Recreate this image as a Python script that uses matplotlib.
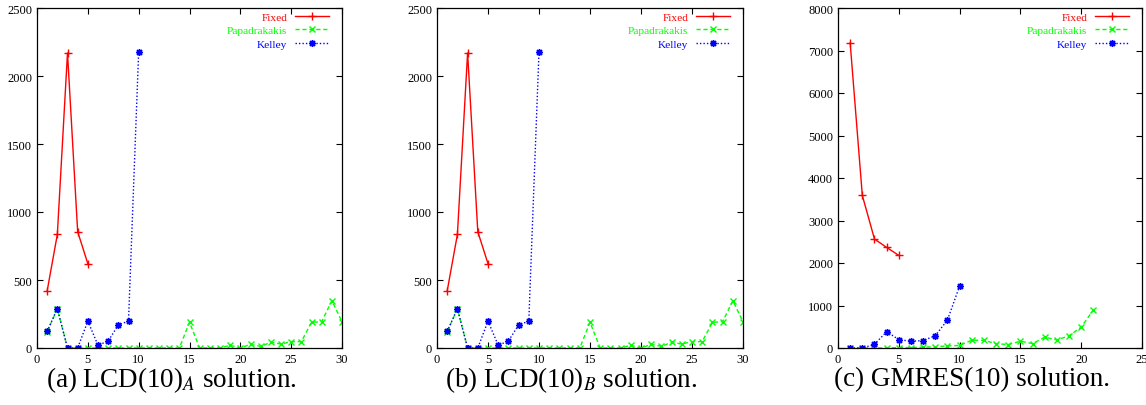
import matplotlib.pyplot as plt
import numpy as np

plt.rcParams['font.family'] = ['Liberation Serif', 'DejaVu Serif']
plt.rcParams['mathtext.fontset'] = 'stix'

# panel (a) / (b): LCD(10)
lcd_fixed = [420, 835, 2170, 855, 620]
lcd_papa = [120, 288, 0, 0, 0, 0, 0, 0, 0, 0, 0, 0, 0, 0, 189,
            0, 0, 0, 20, 0, 27, 12, 42, 29, 47, 47, 189, 193, 348, 193]
lcd_kelley = [122, 289, 0, 0, 198, 20, 51, 169, 198, 2179]

# panel (c): GMRES(10)
gm_fixed = [7178, 3589, 2563, 2367, 2179]
gm_papa = [0, 0, 0, 0, 10, 10, 20, 30, 50, 60, 183, 180, 103, 80, 160,
           103, 254, 190, 286, 494, 893]
gm_kelley = [0, 0, 87, 384, 198, 159, 175, 290, 658, 1458]

captions = ['(a) LCD(10)$_A$ solution.', '(b) LCD(10)$_B$ solution.',
            '(c) GMRES(10) solution.']

panels = [
    (lcd_fixed, lcd_papa, lcd_kelley, 30, 2500, 500),
    (lcd_fixed, lcd_papa, lcd_kelley, 30, 2500, 500),
    (gm_fixed, gm_papa, gm_kelley, 25, 8000, 1000),
]

W, H = 1146, 406
fig = plt.figure(figsize=(W / 100, H / 100), dpi=100)

lefts = [37, 437, 838]
rights = [342, 743, 1142]
top, bottom = 9, 349
cap_x = [171, 571, 972]

for i, (fixed, papa, kelley, xmax, ymax, ystep) in enumerate(panels):
    aw = rights[i] - lefts[i]
    ax = fig.add_axes([lefts[i] / W, 1 - bottom / H,
                       aw / W, (bottom - top) / H])
    ax.plot(np.arange(1, len(fixed) + 1), fixed, color='#ff0000', lw=1,
            ls='-', marker='+', ms=6, mew=1, label='Fixed')
    ax.plot(np.arange(1, len(papa) + 1), papa, color='#00ff00', lw=1,
            ls=(0, (3, 2)), marker='x', ms=4.5, mew=1, label='Papadrakakis')
    ax.plot(np.arange(1, len(kelley) + 1), kelley, color='#0000ff', lw=1,
            ls=(0, (1, 1.5)), marker=(8, 2, 0), ms=5, mew=1, label='Kelley')
    ax.set_xlim(0, xmax)
    ax.set_ylim(0, ymax)
    ax.set_xticks(np.arange(0, xmax + 1, 5))
    ax.set_yticks(np.arange(0, ymax + 1, ystep))
    ax.tick_params(direction='in', top=True, right=True, labelsize=9,
                   length=4, width=0.8)
    for s in ax.spines.values():
        s.set_linewidth(0.9)
    ax.legend(loc='upper right', frameon=False, markerfirst=False,
              labelcolor='linecolor', fontsize=8.2, handlelength=3.0,
              numpoints=1, labelspacing=0.3, borderaxespad=0,
              borderpad=0, handletextpad=0.65,
              bbox_to_anchor=(1 - 13 / aw, 1 - 4 / (bottom - top)))
    fig.text(cap_x[i] / W, 1 - 380 / H, captions[i], ha='center',
             va='center', fontsize=19.5)

fig.savefig('out.png', dpi=100)
